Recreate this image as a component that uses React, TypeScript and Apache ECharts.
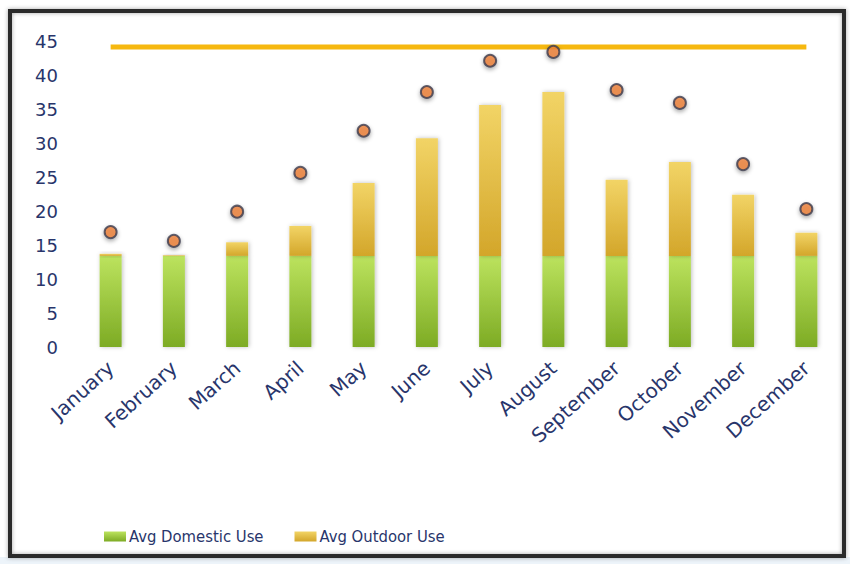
import React, { useEffect, useRef } from "react";
import * as echarts from "echarts";

const months = ["January", "February", "March", "April", "May", "June", "July", "August", "September", "October", "November", "December"];
const domesticUse = [13.4, 13.4, 13.4, 13.4, 13.4, 13.4, 13.4, 13.4, 13.4, 13.4, 13.4, 13.4];
const outdoorUse = [0.3, 0.1, 2.0, 4.4, 10.7, 17.3, 22.2, 24.1, 11.2, 13.8, 9.0, 3.4];
const peakUse = [16.9, 15.6, 19.9, 25.6, 31.8, 37.5, 42.1, 43.4, 37.8, 35.9, 26.9, 20.3];
const capacity = [44.1, 44.1, 44.1, 44.1, 44.1, 44.1, 44.1, 44.1, 44.1, 44.1, 44.1, 44.1];
const yTicks = [0, 45, 5];

const navy = "#28356b";

export default function App() {
  const ref = useRef<HTMLDivElement>(null);
  useEffect(() => {
    const chart = echarts.init(ref.current!, null, { renderer: "svg" });
    const green = new echarts.graphic.LinearGradient(0, 0, 0, 1, [
      { offset: 0, color: "#bce35e" },
      { offset: 1, color: "#7dab24" },
    ]);
    const yellow = new echarts.graphic.LinearGradient(0, 0, 0, 1, [
      { offset: 0, color: "#f2d466" },
      { offset: 1, color: "#d3a62a" },
    ]);
    chart.setOption({
      animation: false,
      backgroundColor: "#ffffff",
      graphic: [
        {
          type: "rect",
          shape: { x: 0, y: 557, width: 850, height: 7 },
          style: { fill: "#edf4fa" },
          z: 0,
        },
        {
          type: "rect",
          shape: { x: 10, y: 11, width: 834, height: 545 },
          style: {
            fill: "none",
            stroke: "#2a2a2a",
            lineWidth: 4,
            shadowColor: "rgba(0,0,0,0.35)",
            shadowBlur: 4,
          },
          z: 100,
        },
      ],
      grid: { left: 79, right: 12, top: 41, bottom: 217, containLabel: false },
      legend: {
        left: 99,
        top: 523,
        itemWidth: 22,
        itemHeight: 10,
        itemGap: 31,
        icon: "rect",
        data: ["Avg Domestic Use", "Avg Outdoor Use"],
        textStyle: { color: navy, fontSize: 16.5, fontFamily: "DejaVu Sans Condensed, sans-serif", padding: [0, 0, 0, -2] },
      },
      xAxis: {
        type: "category",
        data: months,
        axisLine: { show: false },
        axisTick: { show: false },
        axisLabel: {
          rotate: 42,
          margin: 18,
          color: navy,
          fontSize: 20,
          fontFamily: "DejaVu Sans, sans-serif",
        },
      },
      yAxis: {
        type: "value",
        min: yTicks[0],
        max: yTicks[1],
        interval: yTicks[2],
        axisLine: { show: false },
        axisTick: { show: false },
        splitLine: { show: false },
        axisLabel: {
          margin: 21,
          color: navy,
          fontSize: 18,
          fontFamily: "DejaVu Sans, sans-serif",
        },
      },
      series: [
        {
          name: "Avg Domestic Use",
          type: "bar",
          stack: "use",
          barWidth: 22,
          data: domesticUse,
          itemStyle: { color: green, shadowColor: "rgba(0,0,0,0.25)", shadowBlur: 4, shadowOffsetX: 1 },
        },
        {
          name: "Avg Outdoor Use",
          type: "bar",
          stack: "use",
          barWidth: 22,
          data: outdoorUse,
          itemStyle: { color: yellow, shadowColor: "rgba(0,0,0,0.25)", shadowBlur: 4, shadowOffsetX: 1 },
        },
        {
          name: "Peak",
          type: "scatter",
          data: peakUse,
          symbolSize: 12,
          itemStyle: {
            color: "#ee803a",
            borderColor: "#3b3b4e",
            borderWidth: 2,
            shadowColor: "rgba(0,0,0,0.4)",
            shadowBlur: 4,
            shadowOffsetY: 2,
          },
          z: 5,
        },
        {
          name: "Capacity",
          type: "line",
          data: capacity,
          symbol: "none",
          lineStyle: { color: "#f6b80f", width: 5 },
          z: 4,
        },
      ],
    });
    return () => chart.dispose();
  }, []);
  return <div ref={ref} style={{ position: "fixed", left: 0, top: 0, width: 850, height: 564 }} />;
}
